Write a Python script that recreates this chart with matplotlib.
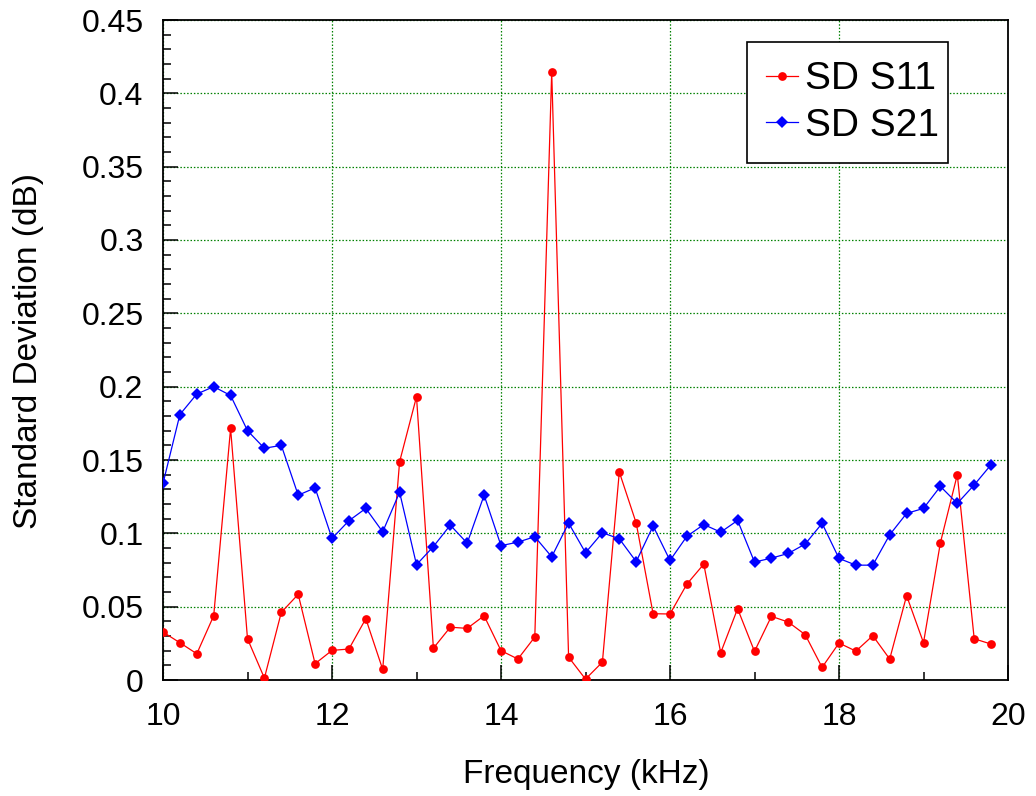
import matplotlib
matplotlib.use("Agg")
import matplotlib.pyplot as plt
from matplotlib.ticker import MultipleLocator, FuncFormatter

freq = [10.0, 10.2, 10.4, 10.6, 10.8, 11.0, 11.2, 11.4, 11.6, 11.8,
        12.0, 12.2, 12.4, 12.6, 12.8, 13.0, 13.2, 13.4, 13.6, 13.8,
        14.0, 14.2, 14.4, 14.6, 14.8, 15.0, 15.2, 15.4, 15.6, 15.8,
        16.0, 16.2, 16.4, 16.6, 16.8, 17.0, 17.2, 17.4, 17.6, 17.8,
        18.0, 18.2, 18.4, 18.6, 18.8, 19.0, 19.2, 19.4, 19.6, 19.8]

sd_s11 = [0.0327, 0.0254, 0.0179, 0.0438, 0.1715, 0.0281, 0.0013, 0.0461, 0.0584, 0.0111,
          0.0202, 0.0211, 0.0418, 0.0072, 0.1488, 0.1931, 0.0217, 0.0360, 0.0352, 0.0438,
          0.0200, 0.0143, 0.0293, 0.4145, 0.0156, 0.0006, 0.0122, 0.1418, 0.1070, 0.0452,
          0.0450, 0.0654, 0.0790, 0.0186, 0.0486, 0.0195, 0.0434, 0.0395, 0.0309, 0.0086,
          0.0252, 0.0197, 0.0302, 0.0143, 0.0575, 0.0254, 0.0936, 0.1400, 0.0281, 0.0245]

sd_s21 = [0.1340, 0.1810, 0.1950, 0.2000, 0.1940, 0.1700, 0.1580, 0.1600, 0.1260, 0.1310,
          0.0965, 0.1086, 0.1170, 0.1010, 0.1280, 0.0786, 0.0910, 0.1056, 0.0933, 0.1260,
          0.0916, 0.0940, 0.0977, 0.0840, 0.1070, 0.0868, 0.1004, 0.0963, 0.0807, 0.1050,
          0.0815, 0.0980, 0.1060, 0.1008, 0.1088, 0.0804, 0.0831, 0.0863, 0.0927, 0.1068,
          0.0829, 0.0783, 0.0783, 0.0990, 0.1136, 0.1170, 0.1320, 0.1204, 0.1330, 0.1468]

series_labels = ["SD S11", "SD S21"]
x_label = "Frequency (kHz)"
y_label = "Standard Deviation (dB)"

plt.rcParams['font.family'] = ['Liberation Sans', 'DejaVu Sans']

W, H = 1036, 796
AX_L, AX_R, AX_T, AX_B = 163, 1008, 20, 680
fig = plt.figure(figsize=(W / 100, H / 100), dpi=100)
ax = fig.add_axes([AX_L / W, 1 - AX_B / H, (AX_R - AX_L) / W, (AX_B - AX_T) / H])

ax.plot(freq, sd_s11, color='#ff0000', lw=0.9, marker='o', ms=6.3,
        markeredgewidth=0, label=series_labels[0], zorder=3)
ax.plot(freq, sd_s21, color='#0000ff', lw=0.9, marker='D', ms=5.8,
        markeredgewidth=0, label=series_labels[1], zorder=3)

ax.set_xlim(10, 20)
ax.set_ylim(0, 0.45)
ax.xaxis.set_major_locator(MultipleLocator(2))
ax.xaxis.set_minor_locator(MultipleLocator(1))
ax.yaxis.set_major_locator(MultipleLocator(0.05))
ax.yaxis.set_minor_locator(MultipleLocator(0.01))

def yfmt(v, pos):
    return ('%.2f' % v).rstrip('0').rstrip('.')
ax.yaxis.set_major_formatter(FuncFormatter(yfmt))
ax.xaxis.set_major_formatter(FuncFormatter(lambda v, p: '%d' % round(v)))

ax.tick_params(which='both', direction='in', top=False, right=False,
               labelsize=23, width=1.1, color='black')
ax.tick_params(which='major', length=11)
ax.tick_params(which='minor', length=6)
ax.tick_params(axis='y', which='major', pad=14)
ax.tick_params(axis='x', which='major', pad=16)

ax.grid(True, which='major', color='#008000', linestyle=(0, (1.2, 1.5)), lw=0.9)
ax.set_axisbelow(True)
for s in ax.spines.values():
    s.set_linewidth(1.3)
    s.set_color('black')

fig.text(586 / W, 1 - 774 / H, x_label, ha='center', va='center', fontsize=24)
fig.text(29 / W, 1 - 351 / H, y_label, ha='center', va='center',
         rotation=90, fontsize=24)

# legend box in pixels: x 747..948, y 42..161
lx0, lx1, ly0, ly1 = 747, 948, 42, 161
bx = (lx0 - AX_L) / (AX_R - AX_L)
bw = (lx1 - lx0) / (AX_R - AX_L)
by = (AX_B - ly1) / (AX_B - AX_T)
bh = (ly1 - ly0) / (AX_B - AX_T)
leg = ax.legend(loc='upper left', bbox_to_anchor=(bx, by, bw, bh), mode='expand',
                fontsize=28, frameon=True, fancybox=False, edgecolor='black',
                framealpha=1, handlelength=0.8, handletextpad=0.2,
                borderpad=0.5, labelspacing=0.26, borderaxespad=0)
leg.get_frame().set_linewidth(1.2)

fig.savefig('out.png', dpi=100)
